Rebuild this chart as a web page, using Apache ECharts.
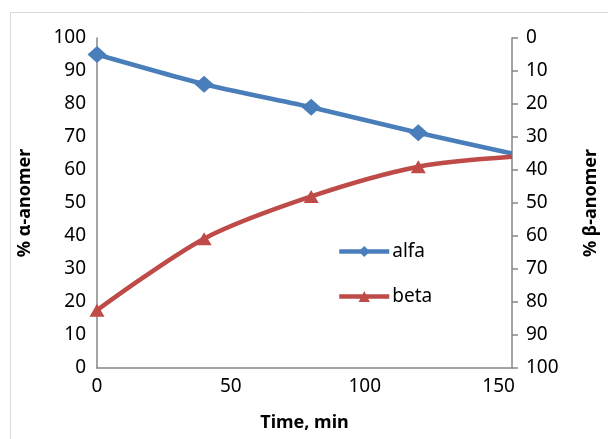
<!DOCTYPE html>
<html>
<head>
<meta charset="utf-8">
<script src="https://cdn.jsdelivr.net/npm/echarts@6/dist/echarts.min.js"></script>
<style>
  html, body { margin: 0; padding: 0; background: #fff; }
  #chart { width: 608px; height: 439px; }
</style>
</head>
<body>
<div id="chart"></div>
<script>
// values
const timeMin = [0, 40, 80, 120, 155];
const alfaValues = [95, 86, 79, 71.3, 65];
const betaValues = [82.5, 60.8, 48, 39, 36]; // right axis, inverted
const seriesNames = ['alfa', 'beta'];

const FONT = 'Noto Sans';
const BLUE = '#4a7ebb';
const RED = '#be4b48';
const AXIS = '#868686';

let myChart = echarts.init(document.getElementById('chart'));

// the last point sits on the axis edge, no marker shown there
function buildData(xs, ys) {
    let arr = [];
    for (let i = 0; i < xs.length; i++) {
        if (i == xs.length - 1) {
            arr.push({ value: [xs[i], ys[i]], symbol: 'none' });
        } else {
            arr.push([xs[i], ys[i]]);
        }
    }
    return arr;
}

const tickText = { fontFamily: FONT, fontSize: 19, color: '#000' };
const nameText = { fontFamily: FONT, fontSize: 18, fontWeight: 'bold', color: '#000' };

myChart.setOption({
    animation: false,
    graphic: [{
        type: 'rect',
        shape: { x: 10.5, y: 12.5, width: 700, height: 600 },
        style: { fill: 'none', stroke: '#d9d9d9', lineWidth: 1 },
        silent: true
    }],
    grid: { left: 97, top: 38, right: 95, bottom: 71 },
    legend: {
        orient: 'vertical',
        left: 332,
        top: 237,
        itemGap: 26,
        itemWidth: 50,
        itemHeight: 14,
        lineStyle: { width: 4.5 },
        data: seriesNames,
        textStyle: { fontFamily: FONT, fontSize: 19, color: '#000', padding: [0, 0, 0, -2] }
    },
    xAxis: {
        type: 'value',
        min: 0,
        max: 155,
        interval: 50,
        name: 'Time, min',
        nameLocation: 'middle',
        nameGap: 46,
        nameTextStyle: nameText,
        splitLine: { show: false },
        axisTick: { show: false },
        axisLine: { lineStyle: { color: AXIS, width: 1.5 } },
        axisLabel: Object.assign({ margin: 9, showMaxLabel: false }, tickText)
    },
    yAxis: [{
        type: 'value',
        min: 0,
        max: 100,
        interval: 10,
        name: '% α-anomer',
        nameLocation: 'middle',
        nameRotate: 90,
        nameGap: 63,
        nameTextStyle: nameText,
        splitLine: { show: false },
        axisTick: { show: false },
        axisLine: { show: true, lineStyle: { color: AXIS, width: 1.5 } },
        axisLabel: Object.assign({ margin: 11 }, tickText)
    }, {
        type: 'value',
        position: 'right',
        inverse: true,
        min: 0,
        max: 100,
        interval: 10,
        name: '% β-anomer',
        nameLocation: 'middle',
        nameRotate: 90,
        nameGap: 70,
        nameTextStyle: nameText,
        splitLine: { show: false },
        axisTick: { show: true, length: 6, inside: false, lineStyle: { color: AXIS, width: 1.5 } },
        axisLine: { show: true, lineStyle: { color: AXIS, width: 1.5 } },
        axisLabel: Object.assign({ margin: 14 }, tickText)
    }],
    series: [{
        name: seriesNames[0],
        type: 'line',
        yAxisIndex: 0,
        smooth: 0.2,
        symbol: 'diamond',
        symbolSize: [19, 17],
        lineStyle: { color: BLUE, width: 4.5 },
        itemStyle: { color: BLUE },
        data: buildData(timeMin, alfaValues)
    }, {
        name: seriesNames[1],
        type: 'line',
        yAxisIndex: 1,
        smooth: 0.3,
        symbol: 'triangle',
        symbolSize: [15, 13],
        lineStyle: { color: RED, width: 4.5 },
        itemStyle: { color: RED },
        data: buildData(timeMin, betaValues)
    }]
});
</script>
</body>
</html>
